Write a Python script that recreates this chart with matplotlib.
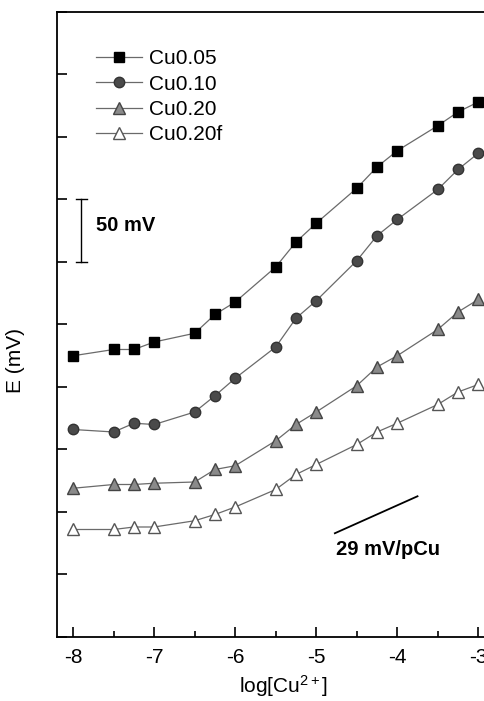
import matplotlib
matplotlib.use('Agg')
import matplotlib.pyplot as plt
from matplotlib.ticker import MultipleLocator, NullFormatter

plt.rcParams['font.family'] = ['Liberation Sans', 'DejaVu Sans']
plt.rcParams['mathtext.fontset'] = 'custom'
plt.rcParams['mathtext.rm'] = 'Liberation Sans'
plt.rcParams['mathtext.it'] = 'Liberation Sans:italic'
plt.rcParams['axes.unicode_minus'] = False

# log[Cu2+] of the calibration solutions
log_cu = [-8, -7.5, -7.25, -7, -6.5, -6.25, -6, -5.5, -5.25, -5,
          -4.5, -4.25, -4, -3.5, -3.25, -3]

# electrode potentials (mV, curves offset for clarity)
e_cu005 = [225, 230, 230, 236, 243, 258, 268, 296, 316, 331,
           359, 376, 389, 409, 420, 428]
e_cu010 = [166, 164, 171, 170, 180, 193, 207, 232, 255, 269,
           301, 321, 334, 358, 374, 387]
e_cu020 = [119, 122, 122, 123, 124, 134, 137, 157, 170, 180,
           201, 216, 225, 246, 260, 270]
e_cu020f = [86, 86, 88, 88, 93, 98, 104, 118, 130, 138,
            154, 164, 171, 186, 196, 202]

fig = plt.figure(figsize=(4.85, 7.01), dpi=100)
ax = fig.add_axes([0.1175, 0.0913, 0.902, 0.8916])

line_kw = dict(color='#6a6a6a', lw=0.9)
ax.plot(log_cu, e_cu005, marker='s', ms=6.5, mfc='black', mec='black',
        label='Cu0.05', **line_kw)
ax.plot(log_cu, e_cu010, marker='o', ms=7.5, mfc='#4a4a4a', mec='#333333',
        label='Cu0.10', **line_kw)
ax.plot(log_cu, e_cu020, marker='^', ms=8.5, mfc='#8a8a8a', mec='#444444',
        label='Cu0.20', **line_kw)
ax.plot(log_cu, e_cu020f, marker='^', ms=8.5, mfc='white', mec='#555555',
        label='Cu0.20f', **line_kw)

# 50 mV scale bar
ax.plot([-7.9, -7.9], [300, 350], color='black', lw=1.0)
ax.plot([-7.96, -7.83], [350, 350], color='black', lw=1.0)
ax.plot([-7.96, -7.83], [300, 300], color='black', lw=1.0)
ax.text(-7.72, 329, '50 mV', fontsize=14.5, fontweight='bold', va='center')

# Nernstian reference slope
ax.plot([-4.77, -3.75], [83, 83 + 29 * 1.02], color='black', lw=1.3)
ax.text(-4.75, 70, '29 mV/pCu', fontsize=14.5, fontweight='bold', va='center')

ax.set_xlim(-8.2, -2.8)
ax.set_ylim(0, 500)
ax.xaxis.set_major_locator(MultipleLocator(1))
ax.xaxis.set_minor_locator(MultipleLocator(0.5))
ax.yaxis.set_major_locator(MultipleLocator(50))
ax.yaxis.set_major_formatter(NullFormatter())
ax.tick_params(which='both', direction='in', width=1.2, labelsize=15)
ax.tick_params(axis='x', which='major', length=7, pad=8)
ax.tick_params(axis='x', which='minor', length=4)
ax.tick_params(axis='y', which='major', length=7)
for s in ax.spines.values():
    s.set_linewidth(1.3)

ax.set_ylabel('E (mV)', fontsize=15)
ax.yaxis.set_label_coords(-0.072, 0.443)
ax.set_xlabel(r'log[Cu$^{2+}$]', fontsize=15)
ax.xaxis.set_label_coords(0.517, -0.058)

ax.legend(loc='upper left', bbox_to_anchor=(0.09, 0.940), frameon=False,
          fontsize=15, handlelength=2.2, handletextpad=0.35,
          labelspacing=0.3, borderpad=0, borderaxespad=0)

fig.savefig('out.png', dpi=100)
